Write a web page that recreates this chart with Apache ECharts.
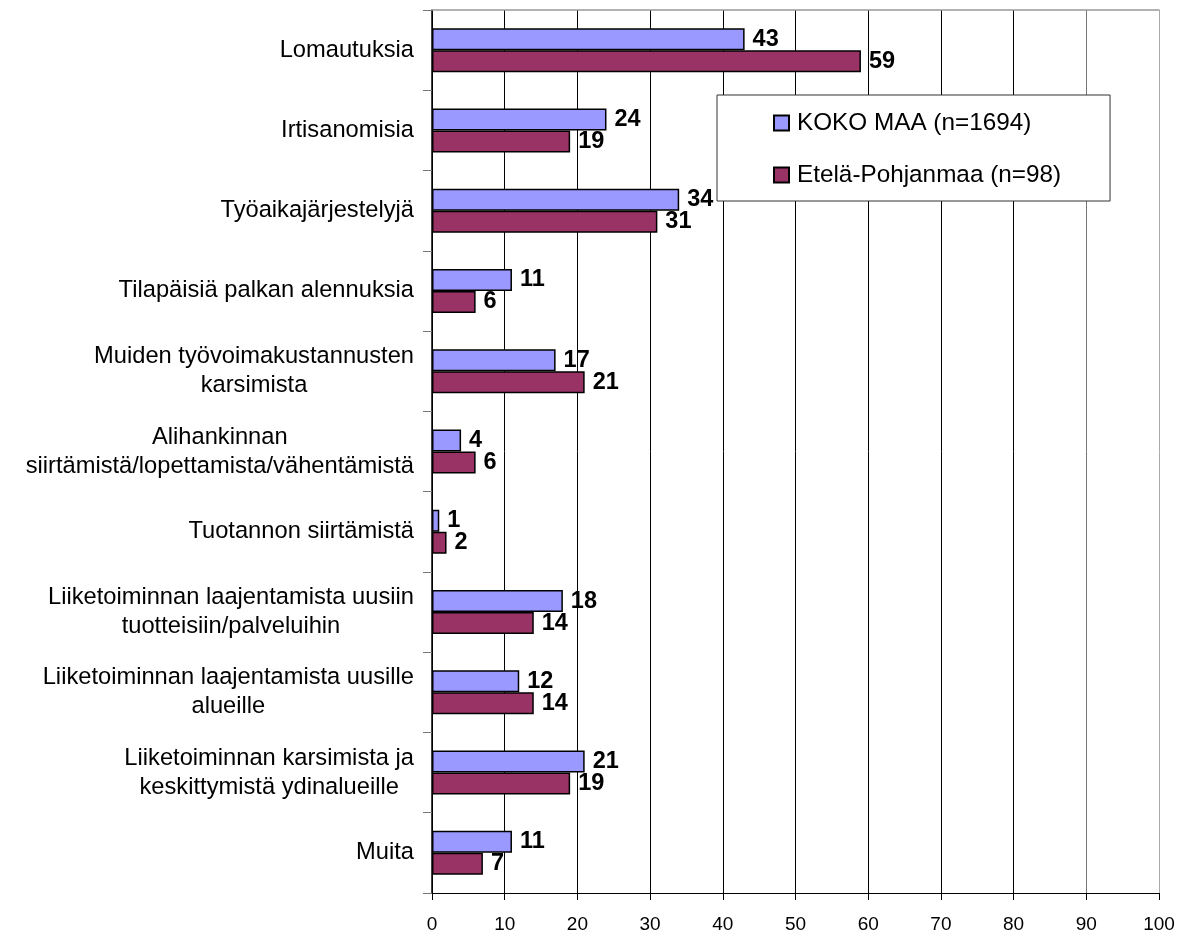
<!DOCTYPE html>
<html>
<head>
<meta charset="utf-8">
<script src="https://cdn.jsdelivr.net/npm/echarts@6/dist/echarts.min.js"></script>
<style>
html,body{margin:0;padding:0;background:#fff;}
#chart{width:1179px;height:934px;}
</style>
</head>
<body>
<div id="chart"></div>
<script>
const categories = [
  "Lomautuksia",
  "Irtisanomisia",
  "Työaikajärjestelyjä",
  "Tilapäisiä palkan alennuksia",
  "Muiden työvoimakustannusten\nkarsimista",
  "Alihankinnan\nsiirtämistä/lopettamista/vähentämistä",
  "Tuotannon siirtämistä",
  "Liiketoiminnan laajentamista uusiin\ntuotteisiin/palveluihin",
  "Liiketoiminnan laajentamista uusille\nalueille",
  "Liiketoiminnan karsimista ja\nkeskittymistä ydinalueille",
  "Muita"
];
const kokoMaa = [43, 24, 34, 11, 17, 4, 1, 18, 12, 21, 11];
const etelaPohjanmaa = [59, 19, 31, 6, 21, 6, 2, 14, 14, 19, 7];
const seriesNames = ["KOKO MAA (n=1694)", "Etelä-Pohjanmaa (n=98)"];
const xTicks = [0, 10, 20, 30, 40, 50, 60, 70, 80, 90, 100];

const FONT = "'Liberation Sans', Arial, sans-serif";
const chart = echarts.init(document.getElementById('chart'));

const labelStyle = {
  show: true, position: 'right', distance: 8,
  fontFamily: FONT, fontSize: 23.5, fontWeight: 'bold', color: '#000'
};

chart.setOption({
  animation: false,
  backgroundColor: '#fff',
  grid: { left: 432, top: 10, right: 20, bottom: 38, containLabel: false },
  legend: {
    orient: 'vertical',
    left: 717, top: 95,
    padding: [16, 49, 14, 56],
    itemGap: 28,
    itemWidth: 15, itemHeight: 15,
    icon: 'rect',
    backgroundColor: '#fff',
    borderColor: '#333', borderWidth: 1, borderRadius: 0,
    textStyle: { fontFamily: FONT, fontSize: 24.3, color: '#000', padding: [0, 0, 0, 3] },
    data: seriesNames
  },
  xAxis: [{
    type: 'value', min: 0, max: 100, interval: 10,
    axisLine: { show: true, lineStyle: { color: '#000', width: 1 } },
    axisTick: { show: true, length: 7, lineStyle: { color: '#000' } },
    axisLabel: {
      margin: 22, fontFamily: FONT, fontSize: 19, color: '#000',
      formatter: function (v) { return xTicks.indexOf(v) >= 0 ? String(v) : ''; }
    },
    splitLine: { show: true, lineStyle: { color: ['#000','#000','#000','#000','#000','#000','#000','#000','#000','#777','#aaa'], width: 1 } }
  }, {
    type: 'value', min: 0, max: 100, interval: 10, position: 'top',
    axisLine: { show: true, lineStyle: { color: '#999', width: 1.5 } },
    axisTick: { show: false }, axisLabel: { show: false }, splitLine: { show: false }
  }],
  yAxis: {
    type: 'category', inverse: true, data: categories,
    axisLine: { show: true, lineStyle: { color: '#000', width: 1.5 } },
    axisTick: { show: true, length: 9, lineStyle: { color: '#777' } },
    axisLabel: {
      margin: 18, fontFamily: FONT, fontSize: 23.7, color: '#000', lineHeight: 29,
      formatter: function (v) { return v.split('\n').map(function (s) { return '{c|' + s + '}'; }).join('\n'); },
      rich: { c: { align: 'center', fontFamily: FONT, fontSize: 23.7, color: '#000', lineHeight: 29 } }
    }
  },
  series: [{
    name: seriesNames[0], type: 'bar', data: kokoMaa,
    barWidth: 22, barGap: '0%',
    itemStyle: { color: '#9999FF', borderColor: '#000', borderWidth: 1.5 },
    label: labelStyle
  }, {
    name: seriesNames[1], type: 'bar', data: etelaPohjanmaa,
    barWidth: 22, barGap: '0%',
    itemStyle: { color: '#993366', borderColor: '#000', borderWidth: 1.5 },
    label: labelStyle
  }]
});
</script>
</body>
</html>
